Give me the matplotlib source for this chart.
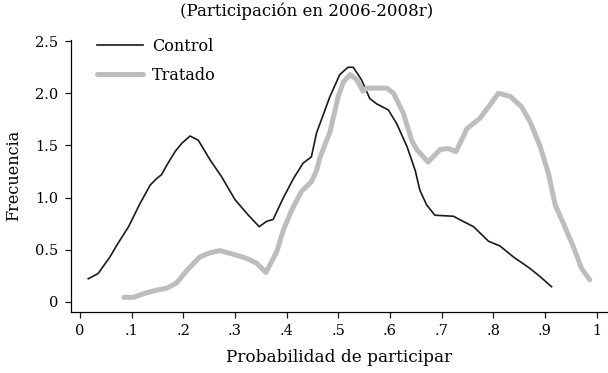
import numpy as np
import matplotlib
matplotlib.use("Agg")
import matplotlib.pyplot as plt

plt.rcParams['font.family'] = ['DejaVu Serif']

# curves
control_x = [0.016, 0.035, 0.058, 0.071, 0.094, 0.116, 0.136, 0.148, 0.158, 0.168, 0.184, 0.197,
             0.213, 0.229, 0.252, 0.274, 0.300, 0.326, 0.347, 0.361, 0.374, 0.393, 0.413, 0.432,
             0.448, 0.458, 0.484, 0.503, 0.519, 0.529, 0.545, 0.561, 0.574, 0.597, 0.613, 0.633,
             0.649, 0.658, 0.671, 0.687, 0.723, 0.742, 0.762, 0.791, 0.813, 0.839, 0.871, 0.891,
             0.913]
control_y = [0.22, 0.27, 0.43, 0.54, 0.72, 0.94, 1.12, 1.18, 1.22, 1.31, 1.44, 1.52,
             1.59, 1.55, 1.36, 1.20, 0.98, 0.83, 0.72, 0.77, 0.79, 0.99, 1.18, 1.33,
             1.39, 1.62, 1.97, 2.18, 2.25, 2.25, 2.13, 1.95, 1.90, 1.84, 1.71, 1.49,
             1.26, 1.07, 0.93, 0.83, 0.82, 0.77, 0.72, 0.58, 0.535, 0.43, 0.32, 0.24,
             0.144]

tratado_x = [0.085, 0.103, 0.129, 0.148, 0.168, 0.187, 0.207, 0.232, 0.252, 0.271, 0.297, 0.323,
             0.342, 0.360, 0.381, 0.394, 0.410, 0.429, 0.448, 0.458, 0.465, 0.484, 0.500, 0.510,
             0.523, 0.536, 0.548, 0.555, 0.594, 0.607, 0.626, 0.642, 0.652, 0.674, 0.697, 0.713,
             0.728, 0.749, 0.774, 0.794, 0.810, 0.833, 0.855, 0.871, 0.891, 0.907, 0.920, 0.936,
             0.955, 0.971, 0.987]
tratado_y = [0.042, 0.042, 0.086, 0.11, 0.13, 0.18, 0.30, 0.43, 0.47, 0.49, 0.455, 0.415,
             0.37, 0.28, 0.48, 0.69, 0.88, 1.06, 1.15, 1.26, 1.39, 1.63, 1.97, 2.11,
             2.18, 2.13, 2.02, 2.05, 2.05, 2.0, 1.81, 1.55, 1.46, 1.34, 1.46, 1.47,
             1.44, 1.66, 1.76, 1.89, 2.0, 1.97, 1.87, 1.73, 1.49, 1.23, 0.93, 0.75,
             0.53, 0.32, 0.21]

xticks = np.arange(0, 11) / 10
xlabels = ['0', '.1', '.2', '.3', '.4', '.5', '.6', '.7', '.8', '.9', '1']
yticks = [0, 0.5, 1.0, 1.5, 2.0, 2.5]
ylabels = ['0', '0.5', '1.0', '1.5', '2.0', '2.5']

fig = plt.figure(figsize=(6.08, 3.73), dpi=100)
ax = fig.add_axes([70.7/608, 1 - 311.7/373, 1 - 70.7/608, (311.7 - 40)/373])

ax.plot(control_x, control_y, color='#1a1a1a', lw=1.2, label='Control')
ax.plot(tratado_x, tratado_y, color='#bdbdbf', lw=3.6, label='Tratado',
        solid_capstyle='round')

ax.set_xlim((70.7 - 80) / 516.5, (608 - 80) / 516.5)
ax.set_ylim((301.7 - 311.7) / 104.2, (301.7 - 40) / 104.2)
ax.set_xticks(xticks, xlabels)
ax.set_yticks(yticks, ylabels)
ax.tick_params(labelsize=10.5, length=4, width=0.9, color='#1a1a1a', pad=5)
for s in ['top', 'right']:
    ax.spines[s].set_visible(False)
for s in ['left', 'bottom']:
    ax.spines[s].set_linewidth(0.9)

ax.set_ylabel('Frecuencia', fontsize=11.5, labelpad=9)
ax.set_xlabel('Probabilidad de participar', fontsize=12.2, labelpad=8)
fig.text(307/608, 1 - 11/373, '(Participación en 2006-2008r)', ha='center', va='center',
         fontsize=12)

ax.legend(loc='upper left', bbox_to_anchor=(97/608, 1 - 38/373),
          bbox_transform=fig.transFigure, frameon=False, fontsize=11.5,
          handlelength=2.85, handletextpad=0.6, labelspacing=0.72,
          borderpad=0, borderaxespad=0)

fig.savefig('out.png', dpi=100)
